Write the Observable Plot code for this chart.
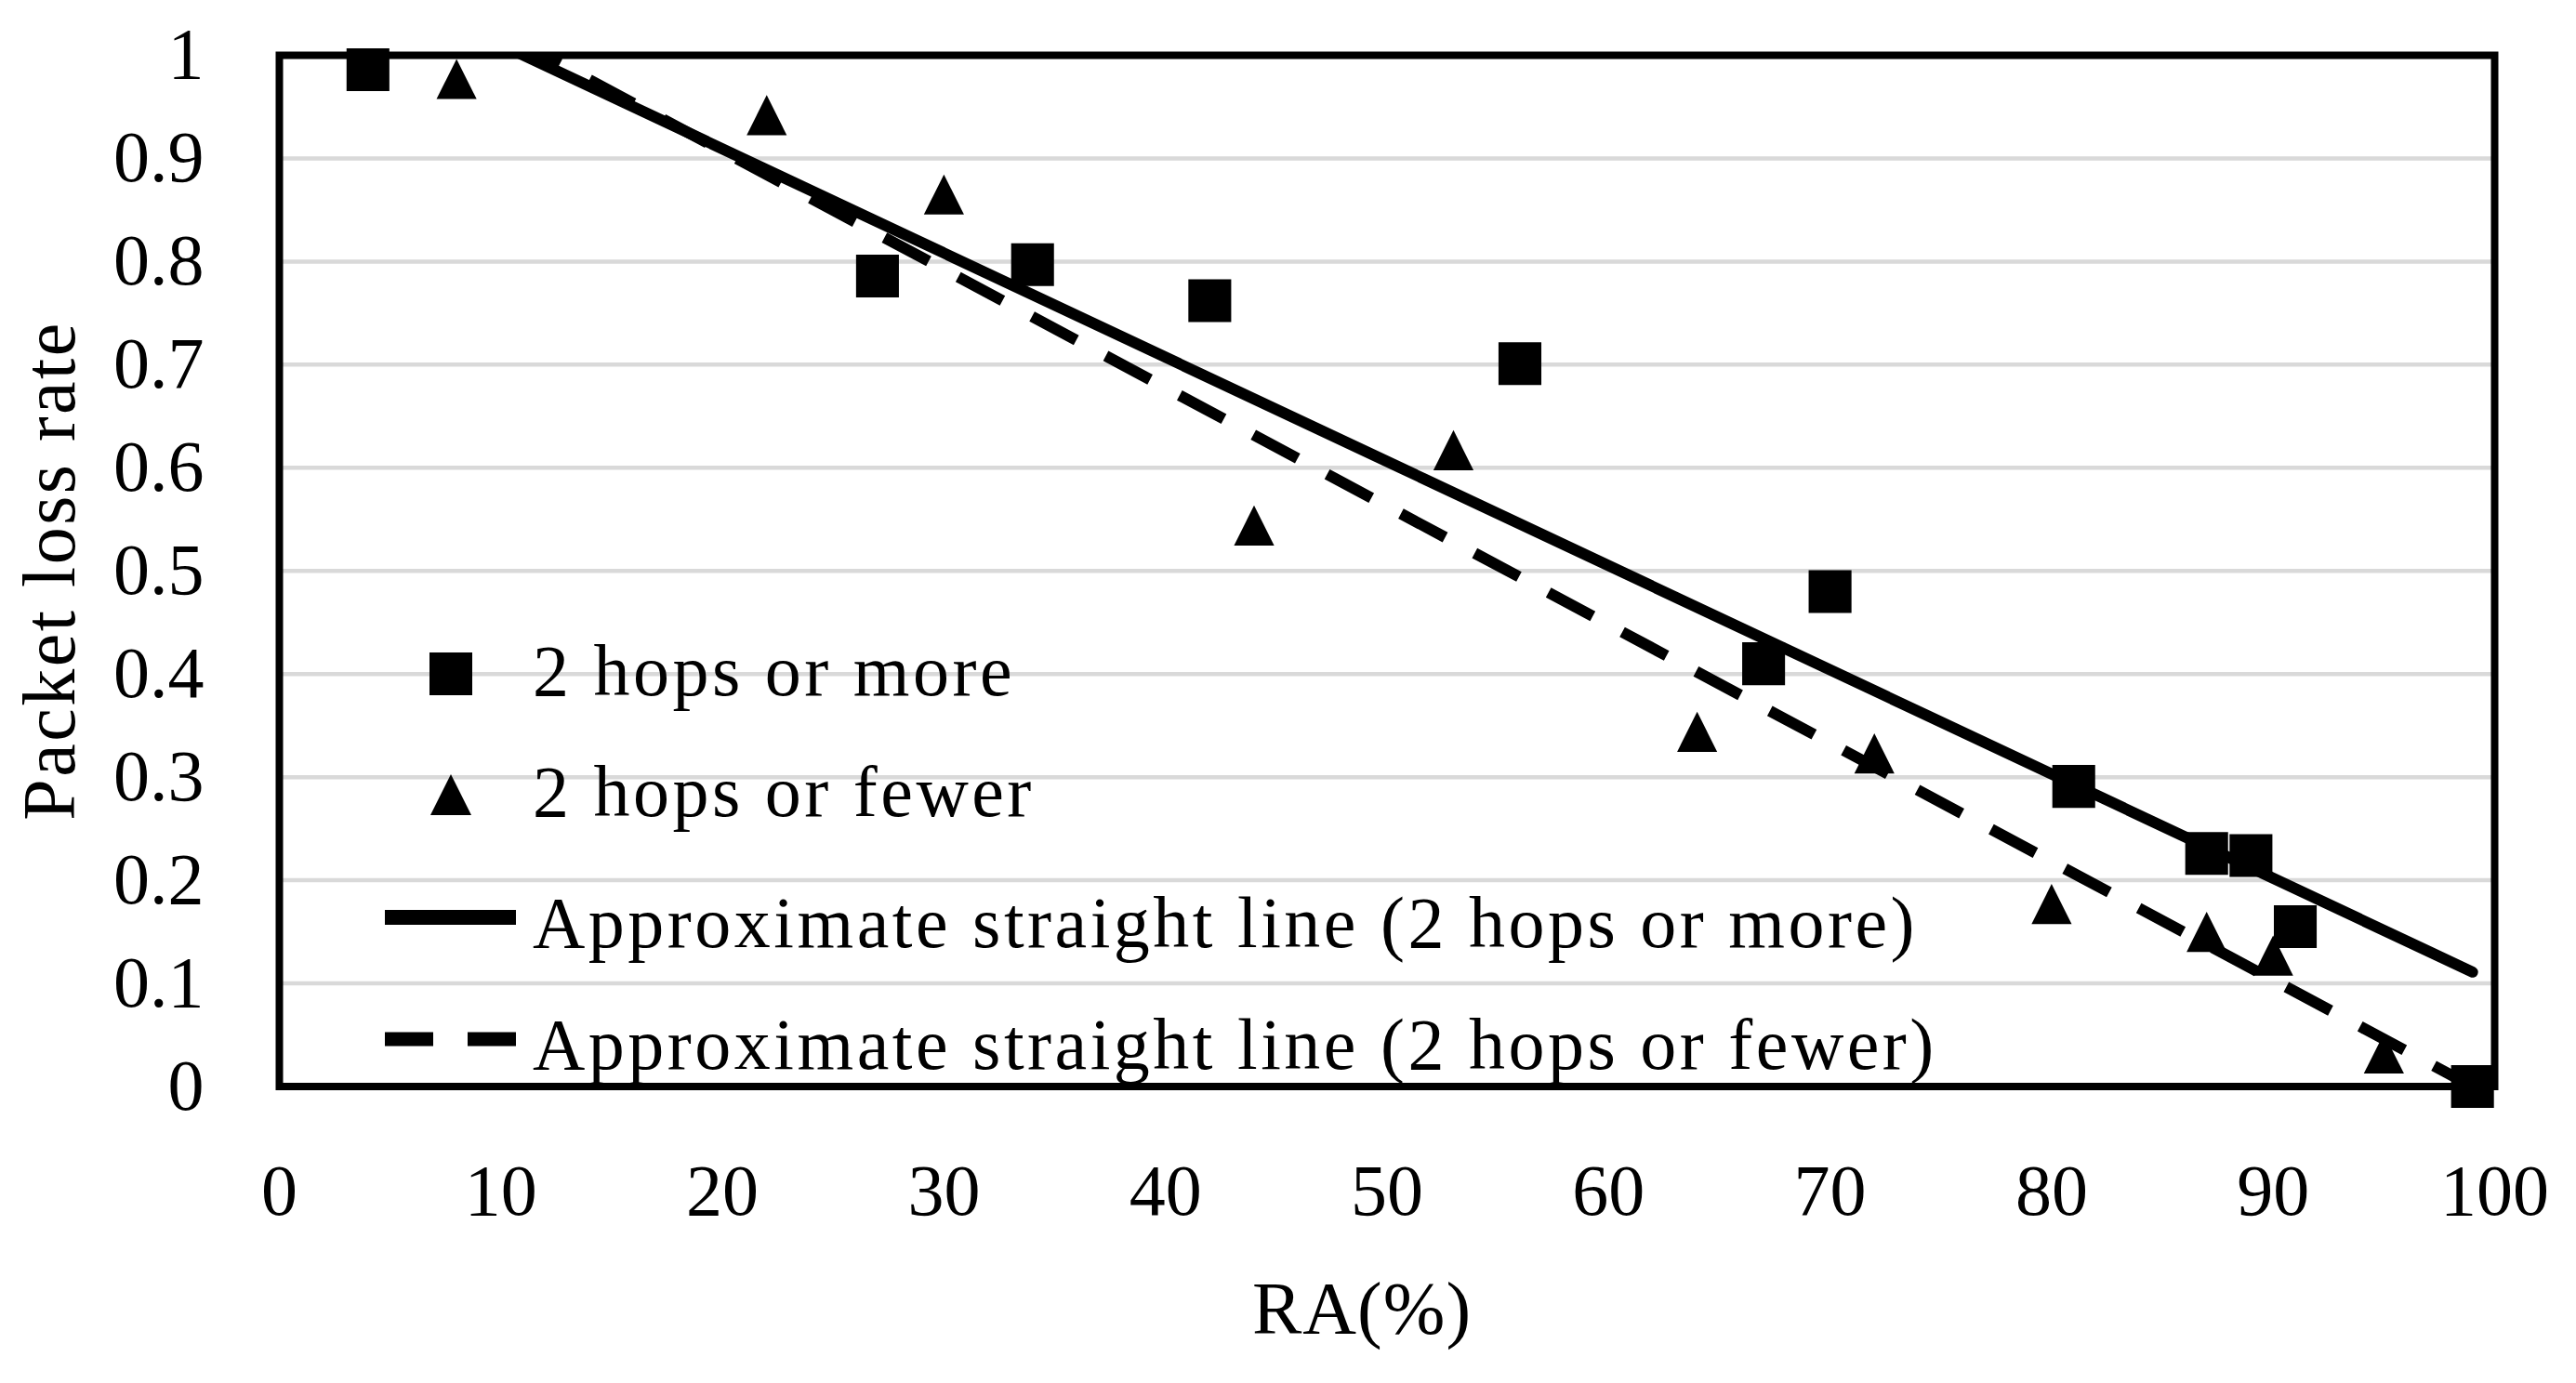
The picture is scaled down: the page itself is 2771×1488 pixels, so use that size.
<!DOCTYPE html>
<html><head><meta charset="utf-8">
<script src="https://cdn.jsdelivr.net/npm/d3@7"></script>
<script src="https://cdn.jsdelivr.net/npm/@observablehq/plot@0.6"></script>
<style>
html,body{margin:0;padding:0;background:#fff;}
#wrap{position:relative;width:2771px;height:1488px;background:#fff;}
#wrap svg{position:absolute;left:0;top:0;}
</style></head><body><div id="wrap"></div>
<script>
// ---- data ----
const xTicks = [0, 10, 20, 30, 40, 50, 60, 70, 80, 90, 100];
const yTicks = [0, 0.1, 0.2, 0.3, 0.4, 0.5, 0.6, 0.7, 0.8, 0.9, 1];

const moreX = [4, 27, 34, 42, 56, 67, 70, 81, 87, 89, 91, 99];
const moreY = [0.986, 0.786, 0.797, 0.762, 0.701, 0.410, 0.480, 0.291, 0.226, 0.224, 0.155, 0.000];

const fewerX = [8, 22, 30, 44, 53, 64, 72, 80, 87, 90, 95];
const fewerY = [0.977, 0.942, 0.865, 0.544, 0.617, 0.344, 0.323, 0.177, 0.150, 0.127, 0.032];

const fitMoreX = [4, 99];
const fitMoreY = [1.071, 0.111];
const fitFewerX = [4, 99];
const fitFewerY = [1.091, 0.000];

const seriesNames = ["2 hops or more", "2 hops or fewer",
  "Approximate straight line (2 hops or more)", "Approximate straight line (2 hops or fewer)"];
const xLabel = "RA(%)";
const yLabel = "Packet loss rate";

// ---- build tables ----
const more = moreX.map((x, i) => ({x, y: moreY[i]}));
const fewer = fewerX.map((x, i) => ({x, y: fewerY[i]}));
const fitMore = fitMoreX.map((x, i) => ({x, y: fitMoreY[i]}));
const fitFewer = fitFewerX.map((x, i) => ({x, y: fitFewerY[i]}));

const W = 2771, H = 1488;
const FONT = "'Liberation Serif', 'Times New Roman', serif";

const triangle = {
  draw(context, size) {
    const r = Math.sqrt(size / Math.PI);
    const h = r * 1.66;
    context.moveTo(0, -h / 2);
    context.lineTo(h / 2, h / 2);
    context.lineTo(-h / 2, h / 2);
    context.closePath();
  }
};

const chart = Plot.plot({
  width: W,
  height: H,
  marginLeft: 300,
  marginRight: 88,
  marginTop: 59,
  marginBottom: 319.5,
  style: {background: "#fff", color: "#000", fontFamily: FONT, fontSize: "78px", overflow: "visible"},
  x: {domain: [0, 100]},
  y: {domain: [0, 1]},
  marks: [
    Plot.gridY(yTicks, {stroke: "#d9d9d9", strokeOpacity: 1, strokeWidth: 4.5}),
    Plot.axisX(xTicks, {tickSize: 0, tickPadding: 83, fontSize: 78, tickFormat: d => String(d), label: null, fill: "#000"}),
    Plot.axisY(yTicks, {tickSize: 0, tickPadding: 81, fontSize: 78, tickFormat: d => String(d), label: null, fill: "#000"}),
    Plot.line(fitMore, {x: "x", y: "y", stroke: "#000", strokeWidth: 12, clip: true}),
    Plot.line(fitFewer, {x: "x", y: "y", stroke: "#000", strokeWidth: 12, strokeDasharray: "54,36", strokeLinecap: "butt", clip: true}),
    Plot.frame({stroke: "#000", strokeWidth: 8}),
    Plot.dot(more, {x: "x", y: "y", symbol: "square", r: 26, fill: "#000", stroke: "none"}),
    Plot.dot(fewer, {x: "x", y: "y", symbol: triangle, r: 26, fill: "#000", stroke: "none"})
  ]
});

const wrap = document.getElementById("wrap");
wrap.appendChild(chart);

// ---- overlay: legend and axis titles ----
const ov = d3.create("svg")
  .attr("width", W).attr("height", H)
  .attr("viewBox", `0 0 ${W} ${H}`)
  .style("font-family", FONT)
  .style("pointer-events", "none");

const markerX = 485, textX = 573;
const rows = [
  {kind: "square", cy: 725, base: 748},
  {kind: "triangle", cy: 855, base: 878},
  {kind: "solid", cy: 987, base: 1019},
  {kind: "dashed", cy: 1118, base: 1150}
];
rows.forEach((r, i) => {
  if (r.kind === "square") {
    ov.append("rect").attr("x", markerX - 23).attr("y", r.cy - 23).attr("width", 46).attr("height", 46).attr("fill", "#000");
  } else if (r.kind === "triangle") {
    const h = 44;
    ov.append("path").attr("d", `M${markerX},${r.cy - h / 2}L${markerX + h / 2},${r.cy + h / 2}L${markerX - h / 2},${r.cy + h / 2}Z`).attr("fill", "#000");
  } else if (r.kind === "solid") {
    ov.append("line").attr("x1", 414).attr("x2", 555).attr("y1", r.cy).attr("y2", r.cy).attr("stroke", "#000").attr("stroke-width", 16);
  } else {
    ov.append("line").attr("x1", 414).attr("x2", 555).attr("y1", r.cy).attr("y2", r.cy).attr("stroke", "#000").attr("stroke-width", 15).attr("stroke-dasharray", "52,37");
  }
  ov.append("text").attr("x", textX).attr("y", r.base)
    .attr("font-size", 78).attr("letter-spacing", 3.5).attr("fill", "#000")
    .text(seriesNames[i]);
});

ov.append("text").attr("x", 1465).attr("y", 1435).attr("text-anchor", "middle")
  .attr("font-size", 80).attr("letter-spacing", 1).attr("fill", "#000").text(xLabel);
ov.append("text").attr("transform", "translate(80,614) rotate(-90)").attr("text-anchor", "middle")
  .attr("font-size", 80).attr("letter-spacing", 2.5).attr("fill", "#000").text(yLabel);

wrap.appendChild(ov.node());
</script>
</body></html>
